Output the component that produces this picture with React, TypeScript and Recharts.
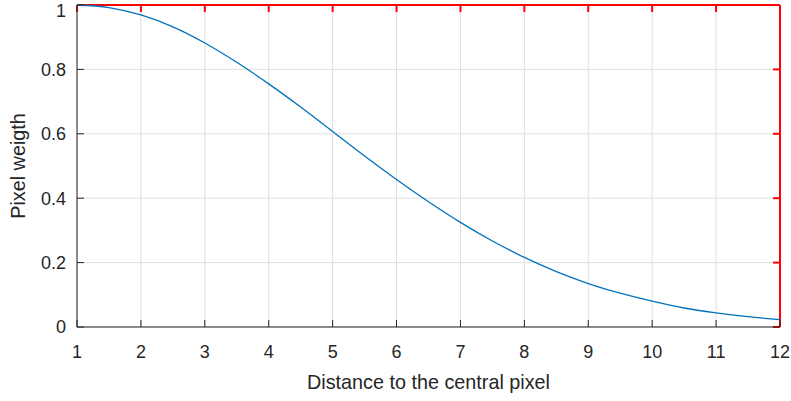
import { LineChart, Line, CartesianGrid, XAxis, YAxis, Label, ReferenceLine } from "recharts";

// distance to the central pixel (px)
const distances = [1, 1.5, 2, 2.5, 3, 3.5, 4, 4.5, 5, 5.5, 6, 6.5, 7, 7.5, 8, 8.5, 9, 9.5, 10, 10.5, 11, 11.5, 12];
// weight
const weights = [
  1.0, 0.992, 0.969, 0.932, 0.882, 0.822, 0.755, 0.683, 0.607, 0.531, 0.458, 0.389,
  0.325, 0.267, 0.216, 0.172, 0.135, 0.105, 0.08, 0.059, 0.044, 0.032, 0.023,
];
const xTicks = [1, 2, 3, 4, 5, 6, 7, 8, 9, 10, 11, 12];
const yTicks = [0, 0.2, 0.4, 0.6, 0.8, 1];

const data = distances.map((d, i) => ({ d, w: weights[i] }));

const ink = "#262626";
const font = "'Liberation Sans', Arial, Helvetica, sans-serif";
const tickFont = { fill: ink, fontSize: 18, fontFamily: font };
const labelFont = { fill: ink, fontSize: 19.8, fontFamily: font };

// inward tick length on the top / right edges, in data units (~7px)
const xTickLen = 0.11;
const yTickLen = 0.022;
const xMax = 12;
const yMax = 1;

export default function App() {
  return (
    <div style={{ position: "absolute", left: 0, top: 0, background: "#fff" }}>
      <LineChart
        width={791}
        height={401}
        data={data}
        margin={{ top: 5, right: 11, left: 0, bottom: 0 }}
        style={{ fontFamily: font }}
      >
        <CartesianGrid stroke="#dfdfdf" strokeWidth={1} />
        <XAxis
          dataKey="d"
          type="number"
          domain={[1, xMax]}
          ticks={xTicks}
          height={74}
          stroke={ink}
          tickSize={-7}
          tickMargin={25}
          tick={tickFont}
          tickLine={{ stroke: ink }}
        >
          <Label value="Distance to the central pixel" position="insideBottom" offset={12} style={labelFont} />
        </XAxis>
        <YAxis
          type="number"
          domain={[0, yMax]}
          ticks={yTicks}
          width={77}
          stroke={ink}
          tickSize={-7}
          tickMargin={18}
          tick={tickFont}
          tickLine={{ stroke: ink }}
          tickFormatter={(v: number) => String(v)}
        >
          <Label
            value="Pixel weigth"
            angle={-90}
            position="insideLeft"
            offset={18}
            style={{ ...labelFont, textAnchor: "middle" }}
          />
        </YAxis>

        {/* box: top and right edges with inward ticks */}
        <ReferenceLine y={yMax} stroke="#ff0000" strokeWidth={2} ifOverflow="visible" />
        <ReferenceLine x={xMax} stroke="#ff0000" strokeWidth={2} ifOverflow="visible" />
        {xTicks.map((t) => (
          <ReferenceLine
            key={"xt" + t}
            stroke="#ff0000"
            strokeWidth={2}
            ifOverflow="visible"
            segment={[
              { x: t, y: yMax },
              { x: t, y: yMax - yTickLen },
            ]}
          />
        ))}
        {yTicks.map((t) => (
          <ReferenceLine
            key={"yt" + t}
            stroke="#ff0000"
            strokeWidth={2}
            ifOverflow="visible"
            segment={[
              { x: xMax, y: t },
              { x: xMax - xTickLen, y: t },
            ]}
          />
        ))}

        <Line
          type="monotone"
          dataKey="w"
          stroke="#0072BD"
          strokeWidth={1.3}
          dot={false}
          isAnimationActive={false}
        />
      </LineChart>
    </div>
  );
}
